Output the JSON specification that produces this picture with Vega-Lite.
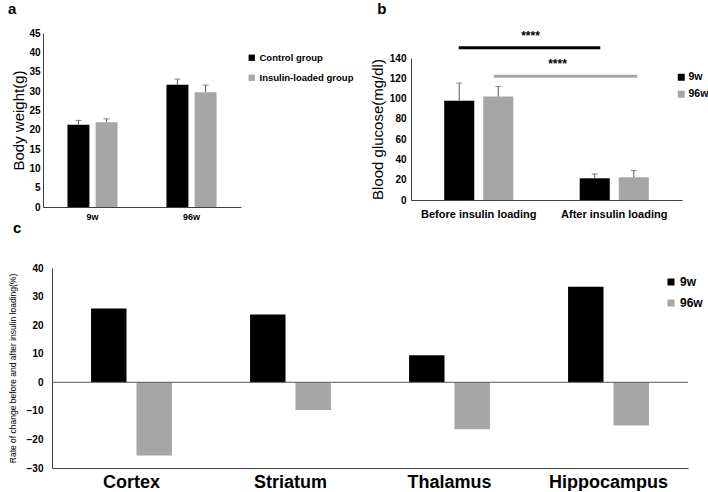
{
  "$schema": "https://vega.github.io/schema/vega-lite/v6.json",
  "padding": {"left": 7, "top": 1, "right": 0, "bottom": 0},
  "background": "white",
  "config": {
    "font": "Liberation Sans",
    "view": {"stroke": null},
    "axis": {"grid": false, "ticks": false, "domain": true, "domainWidth": 1, "domainColor": "#404040", "labelColor": "black", "titleColor": "black", "labelFontWeight": "bold", "titleFontWeight": "normal", "labelOverlap": false, "labelSeparation": -50},
    "axisY": {"labelOverlap": false},
    "legend": {"padding": 0, "symbolType": "square", "labelFontWeight": "bold", "labelColor": "black", "symbolStrokeWidth": 0},
    "title": {"anchor": "start", "frame": "bounds", "fontWeight": "bold", "fontSize": 15, "color": "black"}
  },
  "datasets": {
    "weight": [
      {"age": "9w", "group": "Control group", "value": 21.3, "err": 22.4},
      {"age": "9w", "group": "Insulin-loaded group", "value": 21.9, "err": 22.8},
      {"age": "96w", "group": "Control group", "value": 31.6, "err": 33.1},
      {"age": "96w", "group": "Insulin-loaded group", "value": 29.7, "err": 31.5}
    ],
    "glucose": [
      {"phase": "Before insulin loading", "age": "9w", "value": 97.8, "err": 115.3},
      {"phase": "Before insulin loading", "age": "96w", "value": 102, "err": 112},
      {"phase": "After insulin loading", "age": "9w", "value": 21.4, "err": 25.7},
      {"phase": "After insulin loading", "age": "96w", "value": 22.4, "err": 29}
    ],
    "sig": [
      {"age": "9w", "from": "Before insulin loading", "to": "After insulin loading", "y": 150, "ty": 162, "label": "****"},
      {"age": "96w", "from": "Before insulin loading", "to": "After insulin loading", "y": 122, "ty": 134, "label": "****"}
    ],
    "change": [
      {"region": "Cortex", "age": "9w", "value": 25.8},
      {"region": "Cortex", "age": "96w", "value": -25.6},
      {"region": "Striatum", "age": "9w", "value": 23.7},
      {"region": "Striatum", "age": "96w", "value": -9.7},
      {"region": "Thalamus", "age": "9w", "value": 9.5},
      {"region": "Thalamus", "age": "96w", "value": -16.4},
      {"region": "Hippocampus", "age": "9w", "value": 33.4},
      {"region": "Hippocampus", "age": "96w", "value": -15.1}
    ],
    "zero": [
      {"from": "Cortex", "to": "Hippocampus", "value": 0}
    ]
  },
  "resolve": {"scale": {"color": "independent", "x": "independent", "y": "independent", "xOffset": "independent"}, "legend": {"color": "independent"}},
  "spacing": 0,
  "vconcat": [
    {
      "spacing": 16,
      "resolve": {"scale": {"color": "independent", "x": "independent", "y": "independent", "xOffset": "independent"}, "legend": {"color": "independent"}},
      "hconcat": [
        {
          "width": 198,
          "height": 174,
          "title": {"text": "a", "offset": 11, "dx": -4},
          "data": {"name": "weight"},
          "encoding": {
            "x": {"field": "age", "type": "nominal", "sort": ["9w", "96w"], "scale": {"paddingInner": 0, "paddingOuter": 0},
              "axis": {"title": null, "labelAngle": 0, "labelFontSize": 9, "labelPadding": 5}},
            "xOffset": {"field": "group", "type": "nominal", "sort": ["Control group", "Insulin-loaded group"], "scale": {"paddingInner": 0.22, "paddingOuter": 0.87}}
          },
          "layer": [
            {
              "mark": {"type": "bar"},
              "encoding": {
                "y": {"field": "value", "type": "quantitative", "scale": {"domain": [0, 45]},
                  "axis": {"title": "Body weight(g)", "values": [0, 5, 10, 15, 20, 25, 30, 35, 40, 45], "labelOverlap": false, "labelSeparation": -50, "labelFontSize": 10, "labelPadding": 3, "titleFontSize": 15, "titlePadding": 2}},
                "color": {"field": "group", "type": "nominal", "sort": ["Control group", "Insulin-loaded group"],
                  "scale": {"range": ["#000000", "#a6a6a6"]},
                  "legend": {"title": null, "orient": "none", "legendX": 204, "legendY": 20, "labelFontSize": 9.5, "symbolSize": 40, "rowPadding": 9, "labelOffset": 3}}
              }
            },
            {
              "mark": {"type": "rule", "color": "#595959", "strokeWidth": 1},
              "encoding": {
                "y": {"field": "value", "type": "quantitative",
                  "axis": {"title": "Body weight(g)", "values": [0, 5, 10, 15, 20, 25, 30, 35, 40, 45], "labelOverlap": false, "labelSeparation": -50, "labelFontSize": 10, "labelPadding": 3, "titleFontSize": 15, "titlePadding": 2}},
                "y2": {"field": "err"}}
            },
            {
              "mark": {"type": "tick", "color": "#595959", "size": 6, "thickness": 1},
              "encoding": {
                "y": {"field": "err", "type": "quantitative",
                  "axis": {"title": "Body weight(g)", "values": [0, 5, 10, 15, 20, 25, 30, 35, 40, 45], "labelOverlap": false, "labelSeparation": -50, "labelFontSize": 10, "labelPadding": 3, "titleFontSize": 15, "titlePadding": 2}}}
            }
          ]
        },
        {
          "width": 271,
          "height": 167,
          "title": {"text": "b", "offset": 13, "dx": 7},
          "layer": [
            {
              "data": {"name": "glucose"},
              "mark": {"type": "bar"},
              "encoding": {
                "x": {"field": "phase", "type": "nominal", "scale": {"domain": ["Before insulin loading", "After insulin loading"], "paddingInner": 0, "paddingOuter": 0},
                  "axis": {"title": null, "labelAngle": 0, "labelFontSize": 11, "labelPadding": 8}},
                "xOffset": {"field": "age", "type": "nominal", "scale": {"domain": ["9w", "96w"], "paddingInner": 0.23, "paddingOuter": 0.85}},
                "y": {"field": "value", "type": "quantitative", "scale": {"domain": [0, 140], "range": [167, 25]},
                  "axis": {"title": "Blood glucose(mg/dl)", "values": [0, 20, 40, 60, 80, 100, 120, 140], "labelOverlap": false, "labelSeparation": -50, "labelFontSize": 10, "labelPadding": 5, "titleFontSize": 15, "titlePadding": 4}},
                "color": {"field": "age", "type": "nominal", "scale": {"domain": ["9w", "96w"], "range": ["#000000", "#a6a6a6"]},
                  "legend": {"title": null, "orient": "none", "legendX": 265, "legendY": 39, "labelFontSize": 10.5, "symbolSize": 49, "rowPadding": 6, "labelOffset": 2}}
              }
            },
            {
              "data": {"name": "glucose"},
              "mark": {"type": "rule", "color": "#595959", "strokeWidth": 1},
              "encoding": {
                "x": {"field": "phase", "type": "nominal"},
                "xOffset": {"field": "age", "type": "nominal"},
                "y": {"field": "value", "type": "quantitative",
                  "axis": {"title": "Blood glucose(mg/dl)", "values": [0, 20, 40, 60, 80, 100, 120, 140], "labelOverlap": false, "labelSeparation": -50, "labelFontSize": 10, "labelPadding": 5, "titleFontSize": 15, "titlePadding": 4}},
                "y2": {"field": "err"}}
            },
            {
              "data": {"name": "glucose"},
              "mark": {"type": "tick", "color": "#595959", "size": 6, "thickness": 1},
              "encoding": {
                "x": {"field": "phase", "type": "nominal"},
                "xOffset": {"field": "age", "type": "nominal"},
                "y": {"field": "err", "type": "quantitative",
                  "axis": {"title": "Blood glucose(mg/dl)", "values": [0, 20, 40, 60, 80, 100, 120, 140], "labelOverlap": false, "labelSeparation": -50, "labelFontSize": 10, "labelPadding": 5, "titleFontSize": 15, "titlePadding": 4}}}
            },
            {
              "data": {"name": "sig"},
              "transform": [{"filter": "datum.age === '9w'"}],
              "mark": {"type": "rule", "strokeWidth": 3, "clip": false, "color": "#000000", "xOffset": -20, "x2Offset": -14},
              "encoding": {
                "x": {"field": "from", "type": "nominal", "bandPosition": 0.5},
                "x2": {"field": "to", "bandPosition": 0.5},
                "y": {"field": "y", "type": "quantitative",
                  "axis": {"title": "Blood glucose(mg/dl)", "values": [0, 20, 40, 60, 80, 100, 120, 140], "labelOverlap": false, "labelSeparation": -50, "labelFontSize": 10, "labelPadding": 5, "titleFontSize": 15, "titlePadding": 4}}
              }
            },
            {
              "data": {"name": "sig"},
              "transform": [{"filter": "datum.age === '96w'"}],
              "mark": {"type": "rule", "strokeWidth": 3, "clip": false, "color": "#a6a6a6", "xOffset": 15, "x2Offset": 23},
              "encoding": {
                "x": {"field": "from", "type": "nominal", "bandPosition": 0.5},
                "x2": {"field": "to", "bandPosition": 0.5},
                "y": {"field": "y", "type": "quantitative",
                  "axis": {"title": "Blood glucose(mg/dl)", "values": [0, 20, 40, 60, 80, 100, 120, 140], "labelOverlap": false, "labelSeparation": -50, "labelFontSize": 10, "labelPadding": 5, "titleFontSize": 15, "titlePadding": 4}}
              }
            },
            {
              "data": {"name": "sig"},
              "transform": [{"filter": "datum.age === '9w'"}],
              "mark": {"type": "text", "fontWeight": "bold", "fontSize": 12, "dx": -16, "color": "black", "clip": false},
              "encoding": {
                "x": {"field": "from", "type": "nominal", "bandPosition": 1},
                "y": {"field": "ty", "type": "quantitative",
                  "axis": {"title": "Blood glucose(mg/dl)", "values": [0, 20, 40, 60, 80, 100, 120, 140], "labelOverlap": false, "labelSeparation": -50, "labelFontSize": 10, "labelPadding": 5, "titleFontSize": 15, "titlePadding": 4}},
                "text": {"field": "label"}
              }
            },
            {
              "data": {"name": "sig"},
              "transform": [{"filter": "datum.age === '96w'"}],
              "mark": {"type": "text", "fontWeight": "bold", "fontSize": 12, "dx": 11, "color": "black", "clip": false},
              "encoding": {
                "x": {"field": "from", "type": "nominal", "bandPosition": 1},
                "y": {"field": "ty", "type": "quantitative",
                  "axis": {"title": "Blood glucose(mg/dl)", "values": [0, 20, 40, 60, 80, 100, 120, 140], "labelOverlap": false, "labelSeparation": -50, "labelFontSize": 10, "labelPadding": 5, "titleFontSize": 15, "titlePadding": 4}},
                "text": {"field": "label"}
              }
            }
          ]
        }
      ]
    },
    {
      "width": 645,
      "height": 200,
      "title": {"text": "c", "offset": 27, "dx": 5},
      "layer": [
        {
          "data": {"name": "change"},
          "mark": {"type": "bar"},
          "encoding": {
            "x": {"field": "region", "type": "nominal", "scale": {"domain": ["Cortex", "Striatum", "Thalamus", "Hippocampus"], "range": [9, 645], "paddingInner": 0, "paddingOuter": 0},
              "axis": {"title": null, "labelAngle": 0, "labelFontSize": 18, "labelPadding": 5, "orient": "bottom"}},
            "xOffset": {"field": "age", "type": "nominal", "sort": ["9w", "96w"], "scale": {"paddingInner": 0.22, "paddingOuter": 0.86}},
            "y": {"field": "value", "type": "quantitative", "scale": {"domain": [-30, 40]},
              "axis": {"title": "Rate of change before and after insulin loading(%)", "offset": -9, "values": [-30, -20, -10, 0, 10, 20, 30, 40], "labelOverlap": false, "labelSeparation": -50, "labelFontSize": 10, "labelPadding": 9, "titleFontSize": 8.5, "titlePadding": 9}},
            "color": {"field": "age", "type": "nominal", "sort": ["9w", "96w"],
              "scale": {"range": ["#000000", "#a6a6a6"]},
              "legend": {"title": null, "orient": "none", "legendX": 622, "legendY": 8, "labelFontSize": 12, "symbolSize": 49, "rowPadding": 9, "labelOffset": 3}}
          }
        },
        {
          "data": {"name": "zero"},
          "mark": {"type": "rule", "color": "#595959", "strokeWidth": 1},
          "encoding": {
            "x": {"field": "from", "type": "nominal", "bandPosition": 0},
            "x2": {"field": "to", "bandPosition": 1},
            "y": {"field": "value", "type": "quantitative",
              "axis": {"title": "Rate of change before and after insulin loading(%)", "offset": -9, "values": [-30, -20, -10, 0, 10, 20, 30, 40], "labelOverlap": false, "labelSeparation": -50, "labelFontSize": 10, "labelPadding": 9, "titleFontSize": 8.5, "titlePadding": 9}}}
        }
      ]
    }
  ]
}
